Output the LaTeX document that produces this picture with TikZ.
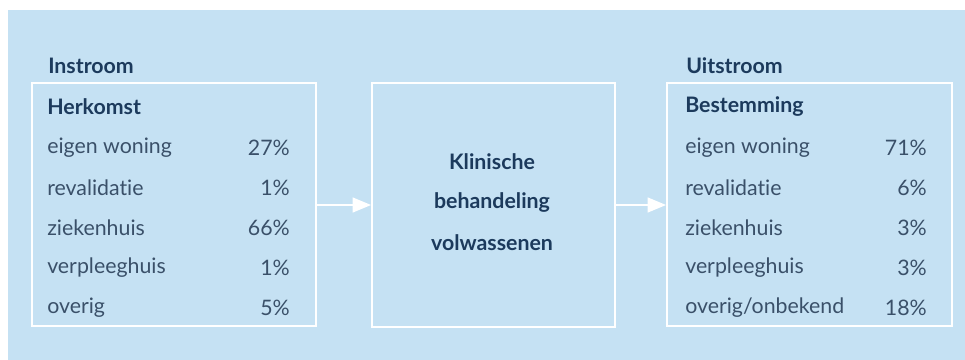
\documentclass[tikz,border=0pt]{standalone}
\usepackage{fontspec}
\setmainfont{Lato}[Ligatures={NoCommon,NoRare}]
\usetikzlibrary{arrows.meta}
\definecolor{bg}{HTML}{C5E1F3}
\definecolor{head}{HTML}{1C3A5C}
\definecolor{txt}{HTML}{3A5069}
\tikzset{
  px/.style={x=0.75pt,y=-0.75pt},
  frame/.style={draw=white,line width=1.2pt},
  hd/.style={anchor=west,font=\fontsize{16}{18}\selectfont\bfseries,text=head,inner sep=0pt},
  mtxt/.style={font=\fontsize{16}{18}\selectfont\bfseries,text=head,align=center,inner sep=0pt},
  lbl/.style={anchor=west,font=\fontsize{16}{18}\selectfont,text=txt,inner sep=0pt},
  pct/.style={anchor=east,font=\fontsize{16}{18}\selectfont,text=txt,inner sep=0pt},
  flow/.style={draw=white,line width=2pt,-{Triangle[length=14pt,width=11pt]}},
}
\begin{document}
\begin{tikzpicture}[px]
\useasboundingbox (0,0) rectangle (965,360);
\fill[white] (0,0) rectangle (965,360);
\fill[bg] (8,10) rectangle (965,360);
% boxes
\node[frame,minimum width=284*0.75pt,minimum height=243*0.75pt,inner sep=0pt] (in) at (174,204.5) {};
\node[frame,minimum width=243*0.75pt,minimum height=244*0.75pt,inner sep=0pt] (mid) at (493.5,205) {};
\node[frame,minimum width=285*0.75pt,minimum height=243*0.75pt,inner sep=0pt] (out) at (809.5,204.5) {};
% arrows
\draw[flow] (in.east |- 0,205) -- (mid.west |- 0,205);
\draw[flow] (mid.east |- 0,205) -- (out.west |- 0,205);
% left
\node[hd] (t1) at (48,66) {Instroom};
\node[hd] (h1) at (47,107) {Herkomst};
\node[lbl] (a1) at (47,148) {eigen woning};
\node[lbl] (a2) at (47,188) {revalidatie};
\node[lbl] (a3) at (47,228) {ziekenhuis};
\node[lbl] (a4) at (47,268) {verpleeghuis};
\node[lbl] (a5) at (47,308) {overig};
\node[pct] (p1) at (290,148) {27\%};
\node[pct] (p2) at (290,188) {1\%};
\node[pct] (p3) at (290,228) {66\%};
\node[pct] (p4) at (290,268) {1\%};
\node[pct] (p5) at (290,308) {5\%};
% middle
\node[mtxt] (m1) at (492,162) {Klinische};
\node[mtxt] (m2) at (492,203) {behandeling};
\node[mtxt] (m3) at (492,243) {volwassenen};
% right
\node[hd] (t2) at (686,66) {Uitstroom};
\node[hd] (h2) at (685,107) {Bestemming};
\node[lbl] (b1) at (685,148) {eigen woning};
\node[lbl] (b2) at (685,188) {revalidatie};
\node[lbl] (b3) at (685,228) {ziekenhuis};
\node[lbl] (b4) at (685,268) {verpleeghuis};
\node[lbl] (b5) at (685,308) {overig/onbekend};
\node[pct] (q1) at (927,148) {71\%};
\node[pct] (q2) at (927,188) {6\%};
\node[pct] (q3) at (927,228) {3\%};
\node[pct] (q4) at (927,268) {3\%};
\node[pct] (q5) at (927,308) {18\%};
\end{tikzpicture}
\end{document}
